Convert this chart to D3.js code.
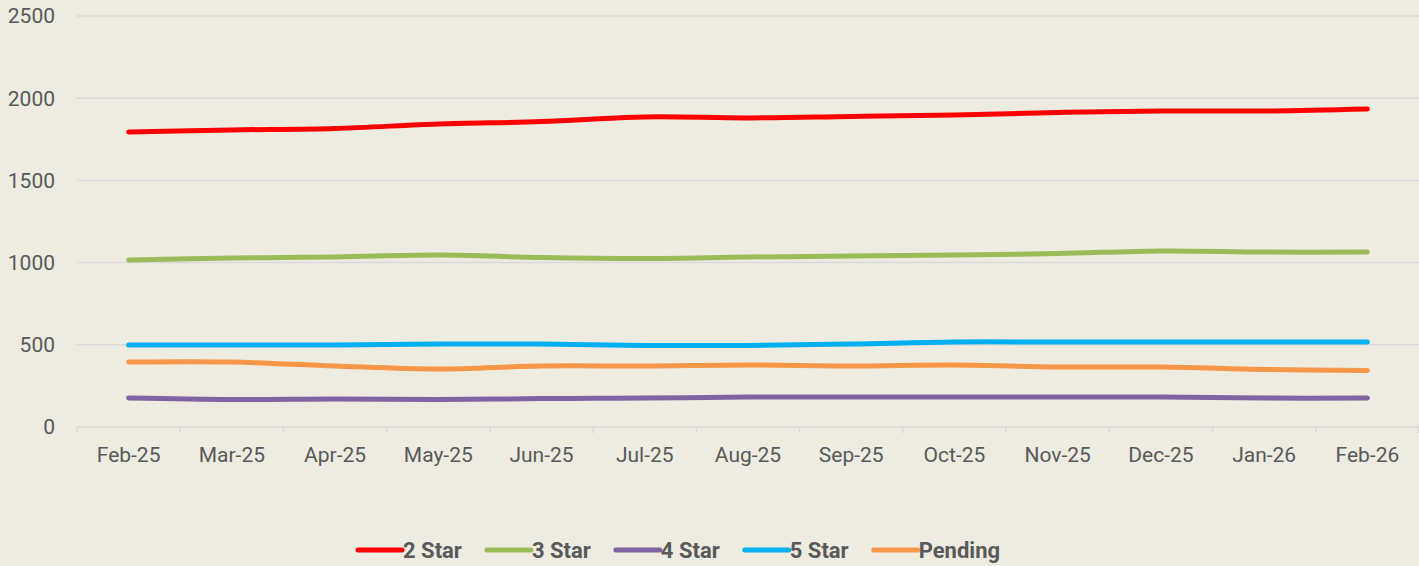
<!DOCTYPE html>
<html>
<head>
<meta charset="utf-8">
<script src="https://cdn.jsdelivr.net/npm/d3@7"></script>
<style>
    body { margin: 0; background: #eeebe0; }
    svg { display: block; font-family: Roboto, "Noto Sans", sans-serif; }
    .tick-label { fill: #595959; font-size: 21px; }
    .legend-label { fill: #595959; font-size: 22px; font-weight: bold; }
</style>
</head>
<body>
<div class="chart"></div>
<script>
const months = ["Feb-25", "Mar-25", "Apr-25", "May-25", "Jun-25", "Jul-25", "Aug-25",
    "Sep-25", "Oct-25", "Nov-25", "Dec-25", "Jan-26", "Feb-26"];
const yTicks = [0, 500, 1000, 1500, 2000, 2500];

const star2 = [1795, 1807, 1816, 1843, 1858, 1886, 1880, 1889, 1898, 1913, 1922, 1922, 1934];
const star3 = [1016, 1028, 1034, 1046, 1031, 1025, 1034, 1040, 1046, 1055, 1071, 1064, 1064];
const star4 = [176, 167, 170, 167, 173, 176, 182, 182, 182, 182, 182, 176, 176];
const star5 = [499, 499, 499, 505, 505, 496, 496, 505, 517, 517, 517, 517, 517];
const pending = [395, 395, 371, 353, 371, 371, 377, 371, 377, 365, 365, 350, 344];

const seriesNames = ["2 Star", "3 Star", "4 Star", "5 Star", "Pending"];
const seriesColors = ["#ff0000", "#9bbb59", "#8064a2", "#00b0f0", "#f79646"];

function drawChart() {
    const width = 1419;
    const height = 566;
    const left = 77, right = 1419, top = 16, bottom = 427;

    const series = [star2, star3, star4, star5, pending].map((vals, i) => ({
        name: seriesNames[i],
        color: seriesColors[i],
        values: vals
    }));

    const svg = d3.select('.chart')
        .append('svg')
        .attr('width', width)
        .attr('height', height)

    svg.append("rect")
        .attr("width", width)
        .attr("height", height)
        .attr("fill", "#eeebe0");

    const x = d3.scaleBand()
        .domain(months)
        .range([left, right]);

    const y = d3.scaleLinear()
        .domain([0, 2500])
        .range([bottom, top]);

    // gridlines
    svg.selectAll(".grid")
        .data(yTicks)
        .enter()
        .append("line")
        .attr("class", "grid")
        .attr("x1", left)
        .attr("x2", right)
        .attr("y1", d => y(d))
        .attr("y2", d => y(d))
        .attr("stroke", "#d9d9d9")
        .attr("stroke-width", 1.5);

    // y labels
    svg.selectAll(".ylab")
        .data(yTicks)
        .enter()
        .append("text")
        .attr("class", "tick-label")
        .attr("x", 55)
        .attr("y", d => y(d))
        .attr("dy", "0.35em")
        .attr("text-anchor", "end")
        .text(d => d);

    // x axis ticks at band edges
    let edges = months.map(m => x(m));
    edges.push(right - 1);
    svg.selectAll(".xtick")
        .data(edges)
        .enter()
        .append("line")
        .attr("x1", d => d)
        .attr("x2", d => d)
        .attr("y1", bottom)
        .attr("y2", bottom + 6)
        .attr("stroke", "#d9d9d9")
        .attr("stroke-width", 1.5);

    svg.selectAll(".xlab")
        .data(months)
        .enter()
        .append("text")
        .attr("class", "tick-label")
        .attr("x", d => x(d) + x.bandwidth() / 2)
        .attr("y", 462)
        .attr("text-anchor", "middle")
        .text(d => d);

    const line = d3.line()
        .x((d, i) => x(months[i]) + x.bandwidth() / 2)
        .y(d => y(d))
        .curve(d3.curveCatmullRom.alpha(0.5));

    svg.selectAll(".series")
        .data(series)
        .enter()
        .append("path")
        .attr("class", "series")
        .attr("d", d => line(d.values))
        .attr("fill", "none")
        .attr("stroke", d => d.color)
        .attr("stroke-width", 5)
        .attr("stroke-linecap", "round")
        .attr("stroke-linejoin", "round");

    // legend
    const legend = svg.append("g");
    let lx = 358;
    series.forEach(s => {
        legend.append("line")
            .attr("x1", lx)
            .attr("x2", lx + 44)
            .attr("y1", 550)
            .attr("y2", 550)
            .attr("stroke", s.color)
            .attr("stroke-width", 5)
            .attr("stroke-linecap", "round");
        let t = legend.append("text")
            .attr("class", "legend-label")
            .attr("x", lx + 45)
            .attr("y", 558)
            .text(s.name);
        lx = lx + 45 + t.node().getComputedTextLength() + 25;
    });
}

drawChart();
</script>
</body>
</html>
